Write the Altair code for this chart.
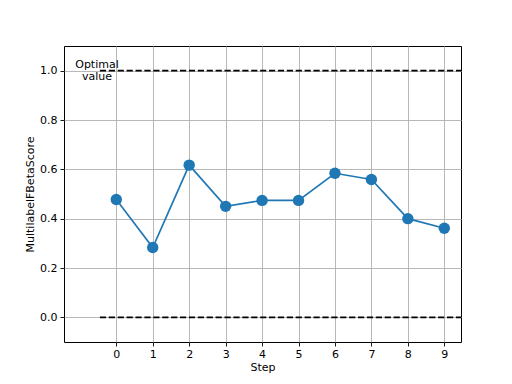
import altair as alt
import pandas as pd

steps = [0, 1, 2, 3, 4, 5, 6, 7, 8, 9]
scores = [0.478, 0.283, 0.617, 0.450, 0.474, 0.474, 0.584, 0.559, 0.400, 0.361]
ref_values = [0.0, 1.0]
ref_start = -0.45
ref_end = 9.46
label_text = "Optimal\nvalue"
label_x = -0.53
label_y = 1.0

x_domain = [-1.435, 9.458]
y_domain = [-0.1, 1.1]

df = pd.DataFrame({"Step": steps, "Score": scores})
refs = pd.DataFrame({"y": ref_values, "x": [ref_start] * 2, "x2": [ref_end] * 2})
lab = pd.DataFrame({"x": [label_x], "y": [label_y], "t": [label_text]})

xs = alt.Scale(domain=x_domain, nice=False, zero=False)
ys = alt.Scale(domain=y_domain, nice=False, zero=False)

blue = "#1f77b4"

base_x = alt.X("Step:Q", scale=xs, title="Step",
               axis=alt.Axis(values=steps, format="d"))
base_y = alt.Y("Score:Q", scale=ys, title="MultilabelFBetaScore",
               axis=alt.Axis(values=[0, 0.2, 0.4, 0.6, 0.8, 1.0], format=".1f"))

line = alt.Chart(df).mark_line(color=blue, strokeWidth=1.67).encode(x=base_x, y=base_y)
pts = alt.Chart(df).mark_circle(color=blue, opacity=1, size=130).encode(x=base_x, y=base_y)

rules = alt.Chart(refs).mark_rule(color="black", strokeWidth=1.67, strokeDash=[6.2, 2.7], clip=True).encode(
    x=alt.X("x:Q", scale=xs), x2="x2:Q", y=alt.Y("y:Q", scale=ys)
)

text = alt.Chart(lab).mark_text(
    lineBreak="\n", align="center", baseline="middle", fontSize=11,
    font="DejaVu Sans", color="black", lineHeight=12, dy=-6
).encode(x=alt.X("x:Q", scale=xs), y=alt.Y("y:Q", scale=ys), text="t:N")

chart = alt.layer(line, pts, rules, text).properties(
    width=397, height=296,
    autosize=alt.AutoSizeParams(type="none"),
    padding={"left": 56, "top": 38, "right": 43, "bottom": 34},
).configure_view(stroke="black", strokeWidth=1).configure_axis(
    domain=False,
    grid=True,
    gridColor="#b0b0b0",
    gridWidth=0.9,
    tickColor="black",
    tickSize=4,
    tickWidth=0.9,
    labelColor="black",
    labelFont="DejaVu Sans",
    labelFontSize=11,
    labelPadding=3,
    titleFont="DejaVu Sans",
    titleFontSize=11,
    titleFontWeight="normal",
    titleColor="black",
    titlePadding=4,
).configure_axisX(labelPadding=2, titlePadding=2).configure_axisY(labelBaseline="middle")

chart.save("out.html", embed_options={"renderer": "svg", "actions": False})
